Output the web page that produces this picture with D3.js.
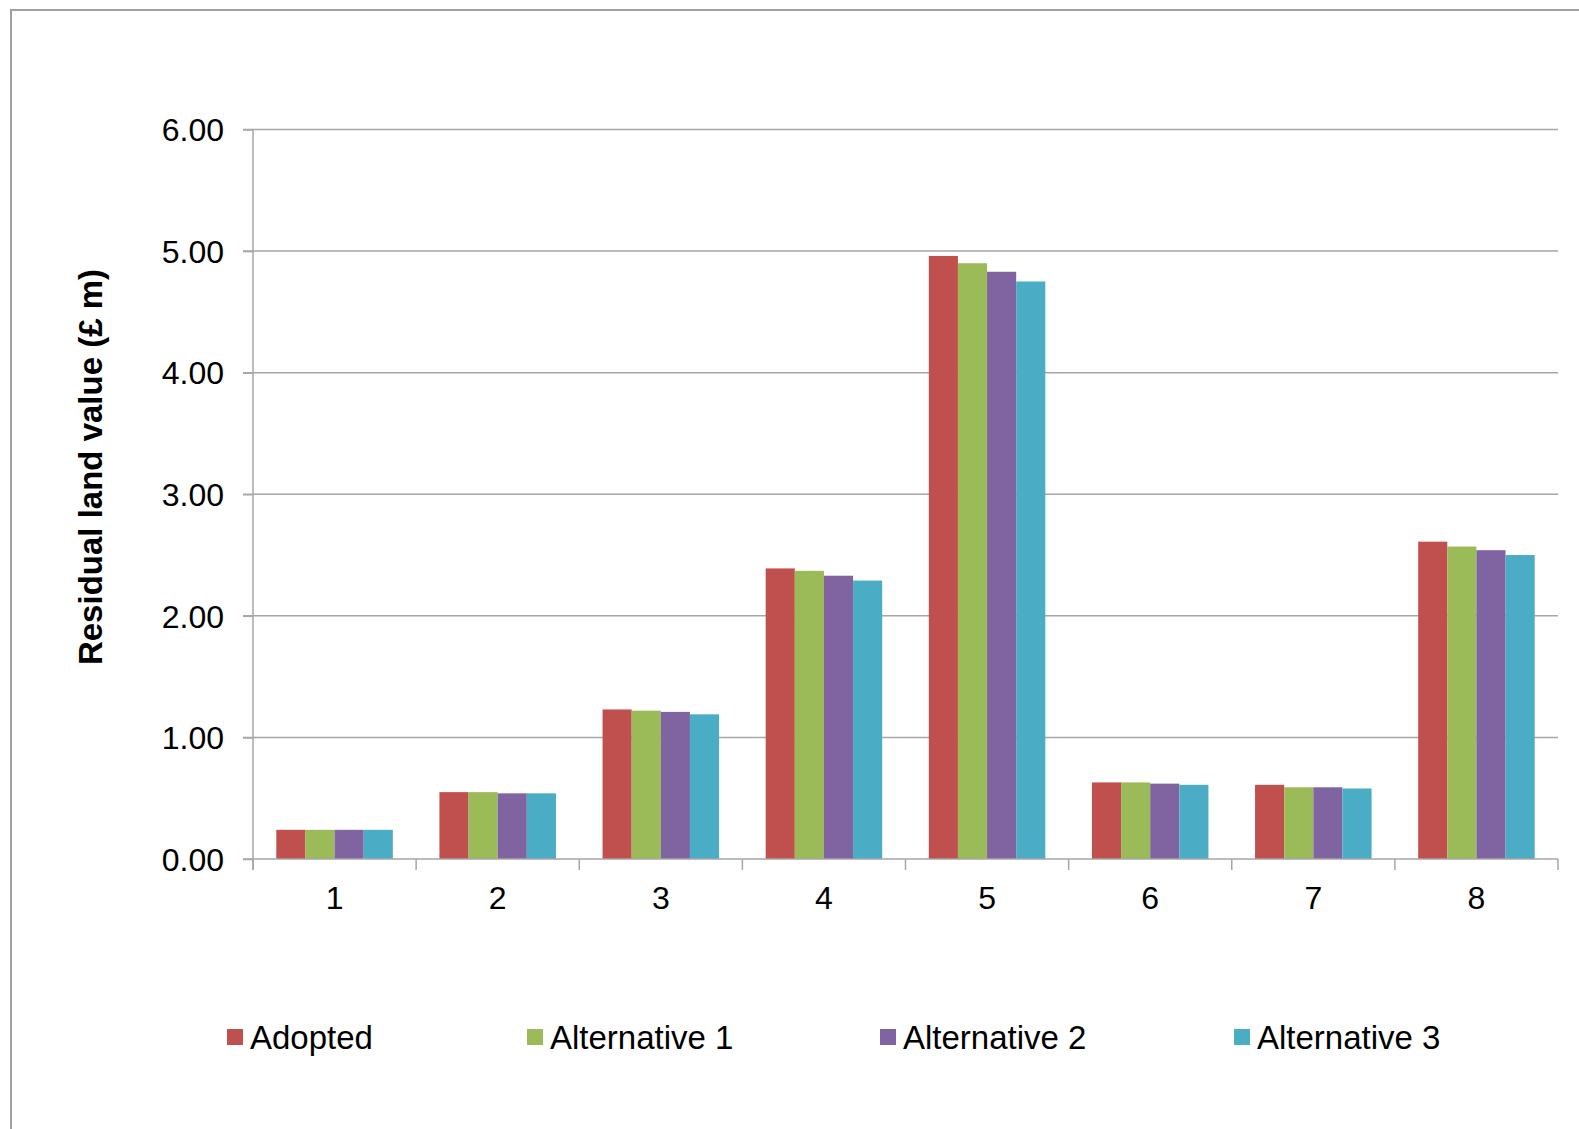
<!DOCTYPE html>
<html>
<head>
<meta charset="utf-8">
<script src="https://cdn.jsdelivr.net/npm/d3@7/dist/d3.min.js"></script>
<style>
  html, body { margin: 0; padding: 0; background: #fff; }
  svg { display: block; font-family: "Liberation Sans", Arial, sans-serif; }
</style>
</head>
<body>
<svg id="chart" width="1579" height="1129"></svg>
<script>
// ---- Data ----
const categories = ["1", "2", "3", "4", "5", "6", "7", "8"];
const seriesNames = ["Adopted", "Alternative 1", "Alternative 2", "Alternative 3"];
const adopted      = [0.24, 0.55, 1.23, 2.39, 4.96, 0.63, 0.61, 2.61];
const alternative1 = [0.24, 0.55, 1.22, 2.37, 4.90, 0.63, 0.59, 2.57];
const alternative2 = [0.24, 0.54, 1.21, 2.33, 4.83, 0.62, 0.59, 2.54];
const alternative3 = [0.24, 0.54, 1.19, 2.29, 4.75, 0.61, 0.58, 2.50];
const yTicks = [0, 1, 2, 3, 4, 5, 6];
const yTitle = "Residual land value (£ m)";
const colors = ["#C0504D", "#9BBB59", "#8064A2", "#4BACC6"];

const seriesValues = [adopted, alternative1, alternative2, alternative3];

(function () {
// ---- Layout ----
const svg = d3.select("#chart");
const pLeft = 253, pRight = 1558, pTop = 129.5, pBottom = 859;
const gridColor = "#A6A6A6";
const fontSize = 32;

// outer frame
svg.append("rect")
  .attr("x", 11).attr("y", 10)
  .attr("width", 1700).attr("height", 1300)
  .attr("fill", "none").attr("stroke", "#A0A0A0").attr("stroke-width", 2);

const x0 = d3.scaleBand().domain(categories).range([pLeft, pRight]).paddingInner(0).paddingOuter(0);
const x1 = d3.scaleBand().domain(seriesNames).range([0, x0.bandwidth()]).paddingInner(0).paddingOuter(0.8);
const y = d3.scaleLinear().domain([0, 6]).range([pBottom, pTop]);

// gridlines
svg.append("g")
  .selectAll("line")
  .data(yTicks.filter(d => d > 0))
  .join("line")
  .attr("x1", pLeft - 10).attr("x2", pRight)
  .attr("y1", d => y(d)).attr("y2", d => y(d))
  .attr("stroke", gridColor).attr("stroke-width", 1.5);

// bars
const groups = svg.append("g")
  .selectAll("g")
  .data(categories)
  .join("g")
  .attr("transform", d => `translate(${x0(d)},0)`);

groups.selectAll("rect")
  .data((c, i) => seriesNames.map((s, j) => ({ s, j, v: seriesValues[j][i] })))
  .join("rect")
  .attr("x", d => x1(d.s))
  .attr("width", x1.bandwidth())
  .attr("y", d => y(d.v))
  .attr("height", d => y(0) - y(d.v))
  .attr("fill", d => colors[d.j]);

// y axis
const yAxis = d3.axisLeft(y).tickValues(yTicks).tickFormat(d3.format(".2f")).tickSizeOuter(0).tickSizeInner(10).tickPadding(19);
const gy = svg.append("g").attr("transform", `translate(${pLeft},0)`).call(yAxis);
gy.select(".domain").attr("stroke", gridColor).attr("stroke-width", 1.5)
  .attr("d", `M0,${pTop}V${pBottom + 11}`);
gy.selectAll(".tick line").attr("stroke", gridColor).attr("stroke-width", 1.5);
gy.selectAll(".tick text").attr("fill", "#000").attr("font-size", fontSize)
  .attr("font-family", "Liberation Sans, Arial, sans-serif").attr("dy", "0.35em");

// x axis
const gx = svg.append("g").attr("transform", `translate(0,${pBottom})`);
gx.append("line").attr("x1", pLeft - 10).attr("x2", pRight).attr("y1", 0).attr("y2", 0)
  .attr("stroke", gridColor).attr("stroke-width", 1.5);
const boundaries = categories.map(c => x0(c)).concat([x0(categories[categories.length - 1]) + x0.bandwidth()]);
gx.selectAll("line.tk").data(boundaries).join("line").attr("class", "tk")
  .attr("x1", d => d).attr("x2", d => d).attr("y1", 0).attr("y2", 11)
  .attr("stroke", gridColor).attr("stroke-width", 1.5);
gx.selectAll("text").data(categories).join("text")
  .attr("x", d => x0(d) + x0.bandwidth() / 2)
  .attr("y", 50)
  .attr("text-anchor", "middle")
  .attr("font-size", fontSize)
  .attr("fill", "#000")
  .text(d => d);

// y title
svg.append("text")
  .attr("transform", `translate(102,${467}) rotate(-90)`)
  .attr("text-anchor", "middle")
  .attr("font-size", 33)
  .attr("font-weight", "bold")
  .attr("fill", "#000")
  .text(yTitle);

// legend
const legendX = [227, 527, 880, 1234];
const lg = svg.append("g").selectAll("g").data(seriesNames).join("g")
  .attr("transform", (d, i) => `translate(${legendX[i]},1029)`);
lg.append("rect").attr("width", 16).attr("height", 16).attr("fill", (d, i) => colors[i]);
lg.append("text").attr("x", 23).attr("y", 19.5).attr("font-size", 33).attr("fill", "#000").text(d => d);
})();
</script>
</body>
</html>
